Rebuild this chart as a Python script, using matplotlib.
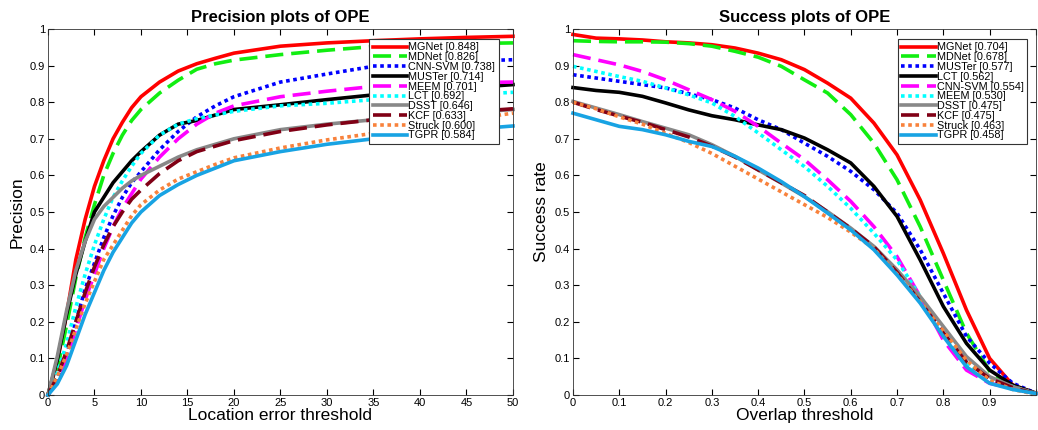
import matplotlib.pyplot as plt
from matplotlib.ticker import FormatStrFormatter

plt.rcParams['font.family'] = ['Liberation Sans', 'DejaVu Sans']

# precision plot data
prec_x = [0, 1, 2, 3, 4, 5, 6, 7, 8, 9, 10, 12, 14, 16, 18, 20, 25, 30, 35, 40, 45, 50]
prec_names = ['MGNet [0.848]', 'MDNet [0.826]', 'CNN-SVM [0.738]', 'MUSTer [0.714]', 'MEEM [0.701]',
              'LCT [0.692]', 'DSST [0.646]', 'KCF [0.633]', 'Struck [0.600]', 'TGPR [0.584]']
mgnet_p = [0, 0.09, 0.22, 0.37, 0.48, 0.57, 0.64, 0.70, 0.745, 0.785, 0.815, 0.855, 0.885, 0.905, 0.92, 0.934, 0.953, 0.962, 0.968, 0.973, 0.977, 0.98]
mdnet_p = [0, 0.07, 0.19, 0.32, 0.43, 0.52, 0.60, 0.66, 0.71, 0.75, 0.78, 0.825, 0.86, 0.89, 0.905, 0.915, 0.93, 0.942, 0.952, 0.957, 0.96, 0.962]
cnnsvm_p = [0, 0.045, 0.11, 0.2, 0.29, 0.36, 0.43, 0.49, 0.54, 0.58, 0.61, 0.67, 0.72, 0.76, 0.79, 0.815, 0.855, 0.877, 0.898, 0.905, 0.912, 0.916]
muster_p = [0, 0.095, 0.22, 0.33, 0.42, 0.50, 0.54, 0.58, 0.61, 0.64, 0.665, 0.71, 0.74, 0.75, 0.765, 0.78, 0.793, 0.807, 0.82, 0.83, 0.839, 0.848]
meem_p = [0, 0.04, 0.10, 0.18, 0.26, 0.33, 0.40, 0.46, 0.51, 0.55, 0.59, 0.65, 0.70, 0.74, 0.77, 0.79, 0.815, 0.83, 0.843, 0.85, 0.853, 0.855]
lct_p = [0, 0.06, 0.14, 0.24, 0.33, 0.41, 0.48, 0.54, 0.585, 0.625, 0.66, 0.71, 0.74, 0.755, 0.765, 0.775, 0.79, 0.797, 0.807, 0.815, 0.82, 0.827]
dsst_p = [0, 0.105, 0.23, 0.34, 0.42, 0.48, 0.515, 0.54, 0.565, 0.585, 0.6, 0.625, 0.65, 0.67, 0.685, 0.70, 0.725, 0.74, 0.752, 0.762, 0.771, 0.78]
kcf_p = [0, 0.05, 0.12, 0.2, 0.28, 0.35, 0.41, 0.46, 0.50, 0.535, 0.56, 0.605, 0.64, 0.665, 0.68, 0.695, 0.72, 0.738, 0.752, 0.763, 0.773, 0.782]
struck_p = [0, 0.05, 0.11, 0.18, 0.25, 0.31, 0.37, 0.41, 0.45, 0.49, 0.52, 0.56, 0.59, 0.61, 0.63, 0.648, 0.675, 0.697, 0.715, 0.735, 0.752, 0.77]
tgpr_p = [0, 0.03, 0.08, 0.15, 0.22, 0.28, 0.34, 0.39, 0.43, 0.47, 0.50, 0.545, 0.575, 0.60, 0.62, 0.64, 0.665, 0.685, 0.70, 0.713, 0.725, 0.735]

# success plot data
succ_x = [0, 0.05, 0.1, 0.15, 0.2, 0.25, 0.3, 0.35, 0.4, 0.45, 0.5, 0.55, 0.6, 0.65, 0.7, 0.75, 0.8, 0.85, 0.9, 0.95, 1.0]
succ_names = ['MGNet [0.704]', 'MDNet [0.678]', 'MUSTer [0.577]', 'LCT [0.562]', 'CNN-SVM [0.554]',
              'MEEM [0.530]', 'DSST [0.475]', 'KCF [0.475]', 'Struck [0.463]', 'TGPR [0.458]']
mgnet_s = [0.985, 0.975, 0.973, 0.97, 0.965, 0.962, 0.957, 0.948, 0.934, 0.916, 0.889, 0.852, 0.811, 0.743, 0.656, 0.533, 0.387, 0.232, 0.1, 0.027, 0.005]
mdnet_s = [0.968, 0.966, 0.965, 0.965, 0.964, 0.96, 0.953, 0.939, 0.923, 0.898, 0.861, 0.825, 0.766, 0.688, 0.588, 0.46, 0.314, 0.169, 0.065, 0.023, 0.003]
muster_s = [0.875, 0.866, 0.857, 0.848, 0.839, 0.823, 0.807, 0.784, 0.752, 0.725, 0.688, 0.652, 0.611, 0.561, 0.497, 0.397, 0.278, 0.16, 0.087, 0.032, 0.005]
lct_s = [0.84, 0.832, 0.827, 0.816, 0.798, 0.779, 0.763, 0.752, 0.738, 0.725, 0.702, 0.67, 0.634, 0.57, 0.488, 0.369, 0.242, 0.141, 0.068, 0.027, 0.005]
cnnsvm_s = [0.93, 0.916, 0.902, 0.884, 0.861, 0.834, 0.807, 0.775, 0.734, 0.688, 0.643, 0.588, 0.529, 0.46, 0.378, 0.269, 0.15, 0.068, 0.032, 0.018, 0.004]
meem_s = [0.898, 0.884, 0.87, 0.857, 0.839, 0.82, 0.798, 0.761, 0.716, 0.67, 0.624, 0.57, 0.51, 0.442, 0.369, 0.269, 0.169, 0.087, 0.041, 0.023, 0.004]
dsst_s = [0.802, 0.784, 0.766, 0.747, 0.729, 0.711, 0.684, 0.652, 0.615, 0.579, 0.542, 0.501, 0.456, 0.406, 0.342, 0.269, 0.187, 0.105, 0.05, 0.023, 0.004]
kcf_s = [0.8, 0.78, 0.762, 0.745, 0.725, 0.705, 0.68, 0.65, 0.615, 0.58, 0.545, 0.5, 0.455, 0.405, 0.335, 0.255, 0.17, 0.09, 0.045, 0.02, 0.003]
struck_s = [0.8, 0.782, 0.76, 0.74, 0.715, 0.69, 0.66, 0.625, 0.59, 0.555, 0.52, 0.485, 0.445, 0.4, 0.33, 0.255, 0.175, 0.095, 0.04, 0.015, 0.002]
tgpr_s = [0.77, 0.752, 0.734, 0.725, 0.711, 0.693, 0.679, 0.652, 0.62, 0.583, 0.542, 0.497, 0.451, 0.397, 0.328, 0.251, 0.16, 0.077, 0.032, 0.015, 0.004]

# line style by rank in the legend (same in both plots)
colors = ['#ff0000', '#11ee11', '#0000ff', '#000000', '#ff00ff',
          '#00ffff', '#888888', '#800015', '#f8823c', '#18a3e3']
dashes = [None, (5, 2.2), (1, 1), None, (5, 2.2), (1, 1), None, (5, 2.2), (1, 1), None]

prec_vals = [mgnet_p, mdnet_p, cnnsvm_p, muster_p, meem_p, lct_p, dsst_p, kcf_p, struck_p, tgpr_p]
succ_vals = [mgnet_s, mdnet_s, muster_s, lct_s, cnnsvm_s, meem_s, dsst_s, kcf_s, struck_s, tgpr_s]

fig = plt.figure(figsize=(10.38, 4.3), dpi=100)
ax1 = fig.add_axes([0.0462, 0.0814, 0.448, 0.8512])
ax2 = fig.add_axes([0.552, 0.0814, 0.446, 0.8512])


def draw(ax, xs, names, vals, anchor):
    for i, (name, ys) in enumerate(zip(names, vals)):
        line, = ax.plot(xs, ys, color=colors[i], lw=2.6, label=name, clip_on=False)
        if dashes[i] is not None:
            line.set_dashes(dashes[i])
    leg = ax.legend(loc='upper right', fontsize=7.8, handlelength=3.2, handletextpad=0.1,
                    labelspacing=-0.02, borderpad=0.3, fancybox=False, framealpha=1,
                    borderaxespad=0.6, bbox_to_anchor=anchor)
    leg.get_frame().set_edgecolor('#333333')
    leg.get_frame().set_linewidth(0.8)
    ax.tick_params(direction='in', top=True, right=True, labelsize=8, length=4, pad=2)
    for s in ax.spines.values():
        s.set_linewidth(0.6)
        s.set_color('#333333')


draw(ax1, prec_x, prec_names, prec_vals, (0.983, 0.99))
ax1.set_xlim(0, 50)
ax1.set_ylim(0, 1)
ax1.set_xticks(range(0, 51, 5))
ax1.set_yticks([i / 10 for i in range(11)])
ax1.yaxis.set_major_formatter(FormatStrFormatter('%g'))
ax1.set_title('Precision plots of OPE', fontsize=12, fontweight='bold', pad=5)
ax1.set_xlabel('Location error threshold', fontsize=12.5, labelpad=0)
ax1.set_ylabel('Precision', fontsize=12.5, labelpad=4)

draw(ax2, succ_x, succ_names, succ_vals, (0.995, 0.99))
ax2.set_xlim(0, 1)
ax2.set_ylim(0, 1)
ax2.set_xticks([i / 10 for i in range(11)])
ax2.set_xticklabels(['%g' % (i / 10) for i in range(10)] + [''])
ax2.set_yticks([i / 10 for i in range(11)])
ax2.yaxis.set_major_formatter(FormatStrFormatter('%g'))
ax2.set_title('Success plots of OPE', fontsize=12, fontweight='bold', pad=5)
ax2.set_xlabel('Overlap threshold', fontsize=12.5, labelpad=0)
ax2.set_ylabel('Success rate', fontsize=12.5, labelpad=4)

fig.savefig('out.png', dpi=100)
